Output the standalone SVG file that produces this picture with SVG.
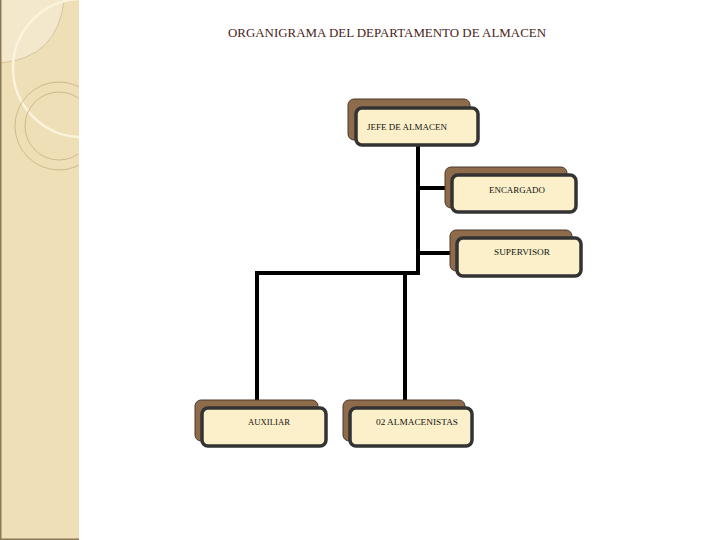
<svg xmlns="http://www.w3.org/2000/svg" width="720" height="540" viewBox="0 0 720 540">
<style>
.sh{fill:#8e6b4b;stroke:#4a3a2a;stroke-width:1}
.fr{fill:#fbf0c9;stroke:#333;stroke-width:3.5}
.t{font-family:"Liberation Serif","DejaVu Serif",serif;font-size:9px;fill:#111}
.ln{fill:none;stroke:#000;stroke-width:4}
</style>
<defs>
<clipPath id="sb"><rect x="0" y="0" width="79" height="540"/></clipPath>
</defs>
<rect width="720" height="540" fill="#fff"/>
<g id="sidebar" clip-path="url(#sb)">
<rect x="0" y="0" width="79" height="540" fill="#efdfb6"/>
<path d="M0,0 H64 Q58,58 0,63 Z" fill="#f4e8cc"/>
<path d="M64,0 Q58,58 0,63" fill="none" stroke="#c9b48e" stroke-width="0.7"/>
<circle cx="82" cy="68" r="69" fill="none" stroke="#fbf3dc" stroke-width="2.5"/>
<circle cx="59" cy="126" r="44" fill="none" stroke="#c6ae86" stroke-width="0.8"/>
<circle cx="59" cy="126" r="34" fill="none" stroke="#c6ae86" stroke-width="0.8"/>
<rect x="0" y="0" width="1.5" height="540" fill="#8a7858"/>
<rect x="0" y="538.5" width="79" height="1.5" fill="#8a7858"/>
</g>
<text x="387" y="37" text-anchor="middle" font-family="'Liberation Serif','DejaVu Serif',serif" font-size="12.5" fill="#4a2418" textLength="318" lengthAdjust="spacingAndGlyphs">ORGANIGRAMA DEL DEPARTAMENTO DE ALMACEN</text>
<g id="connectors">
<path class="ln" d="M418,146 V273 H257 V408"/>
<path class="ln" d="M418,188 H452"/>
<path class="ln" d="M418,253 H456"/>
<path class="ln" d="M405,271 V408"/>
</g>
<g id="jefe">
<rect class="sh" x="348" y="99" width="122" height="41" rx="6"/>
<rect class="fr" x="356" y="108" width="122" height="37" rx="6"/>
<text class="t" x="367" y="130" textLength="80" lengthAdjust="spacingAndGlyphs">JEFE DE ALMACEN</text>
</g>
<g id="encargado">
<rect class="sh" x="445" y="167" width="122" height="41" rx="6"/>
<rect class="fr" x="452" y="175" width="124" height="37" rx="6"/>
<text class="t" x="517" y="193" text-anchor="middle" textLength="56" lengthAdjust="spacingAndGlyphs">ENCARGADO</text>
</g>
<g id="supervisor">
<rect class="sh" x="450" y="230" width="122" height="41" rx="6"/>
<rect class="fr" x="457" y="238" width="124" height="38" rx="6"/>
<text class="t" x="522" y="255" text-anchor="middle" textLength="56" lengthAdjust="spacingAndGlyphs">SUPERVISOR</text>
</g>
<g id="auxiliar">
<rect class="sh" x="195" y="400" width="123" height="41" rx="6"/>
<rect class="fr" x="202" y="408" width="124" height="38" rx="6"/>
<text class="t" x="269" y="425" text-anchor="middle" textLength="42" lengthAdjust="spacingAndGlyphs">AUXILIAR</text>
</g>
<g id="almacenistas">
<rect class="sh" x="343" y="400" width="122" height="41" rx="6"/>
<rect class="fr" x="350" y="408" width="122" height="38" rx="6"/>
<text class="t" x="417" y="425" text-anchor="middle" textLength="82" lengthAdjust="spacingAndGlyphs">02 ALMACENISTAS</text>
</g>
</svg>
